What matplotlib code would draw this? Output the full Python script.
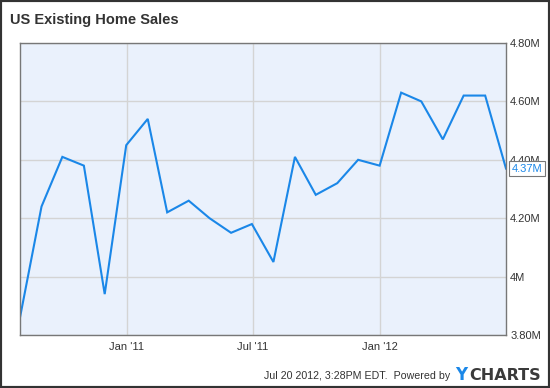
import matplotlib
matplotlib.use("Agg")
import matplotlib.pyplot as plt
import matplotlib.dates as mdates
from matplotlib.patches import Rectangle
from matplotlib.ticker import FuncFormatter
import pandas as pd

# month-end dates, Jul 2010 .. Jun 2012
months = pd.date_range("2010-07-31", "2012-06-30", freq="ME")
sales = [3.86, 4.24, 4.41, 4.38, 3.94, 4.45, 4.54, 4.22, 4.26, 4.20, 4.15, 4.18,
         4.05, 4.41, 4.28, 4.32, 4.40, 4.38, 4.63, 4.60, 4.47, 4.62, 4.62, 4.37]
y_ticks = [3.8, 4.0, 4.2, 4.4, 4.6, 4.8]
x_ticks = ["2011-01-01", "2011-07-01", "2012-01-01"]

line_color = "#1a87e8"
text_color = "#333333"

plt.rcParams["font.family"] = ["Liberation Sans", "DejaVu Sans"]

fig = plt.figure(figsize=(5.5, 3.88), dpi=100)
ax = fig.add_axes([20 / 550, 53 / 388, 486 / 550, 292 / 388])
ax.set_facecolor("#eaf1fc")

ax.plot(months, sales, color=line_color, lw=1.5, solid_joinstyle="miter")

ax.set_xlim(months[0], months[-1])
ax.set_ylim(3.8, 4.8)
ax.set_yticks(y_ticks)
ax.set_xticks(pd.to_datetime(x_ticks))
ax.xaxis.set_major_formatter(mdates.DateFormatter("%b '%y"))


def fmt_m(v, pos):
    if abs(v - round(v)) < 1e-9:
        return "%dM" % round(v)
    return "%.2fM" % v


ax.yaxis.set_major_formatter(FuncFormatter(fmt_m))
ax.yaxis.tick_right()
ax.tick_params(axis="both", length=0, labelsize=8, colors=text_color)
ax.tick_params(axis="y", pad=3)
ax.tick_params(axis="x", pad=5)
ax.grid(True, color="#d4d4d4", lw=1)
ax.set_axisbelow(True)
for side in ["left", "right", "top", "bottom"]:
    ax.spines[side].set_color("#777777")
    ax.spines[side].set_linewidth(1)

# last value marker box (covers the 4.40M label, as in the original)
ax.annotate("%.2fM" % sales[-1], xy=(1, (sales[-1] - 3.8) / 1.0),
            xycoords="axes fraction", xytext=(4, 0), textcoords="offset points",
            va="center", ha="left", fontsize=8, color=line_color, zorder=10,
            bbox=dict(boxstyle="square,pad=0.25", fc="white", ec="#777777", lw=0.8))

fig.text(10 / 550, 1 - 20 / 388, "US Existing Home Sales", fontsize=10.5,
         fontweight="bold", color=text_color, va="center", ha="left")

fig.text(450 / 550, 1 - 376 / 388, "Jul 20 2012, 3:28PM EDT.  Powered by",
         fontsize=7.7, color=text_color, va="center", ha="right")
fig.text(455 / 550, 1 - 375 / 388, "Y", fontsize=12, fontweight="bold",
         color=line_color, va="center", ha="left", family="DejaVu Sans")
fig.text(469 / 550, 1 - 375 / 388, "CHARTS", fontsize=11.5, fontweight="bold",
         color="#3a3a3a", va="center", ha="left", family="DejaVu Sans")

fig.patches.append(Rectangle((0, 0), 1, 1, transform=fig.transFigure,
                             fill=False, ec="#333333", lw=3, figure=fig))

fig.savefig("out.png", dpi=100)
